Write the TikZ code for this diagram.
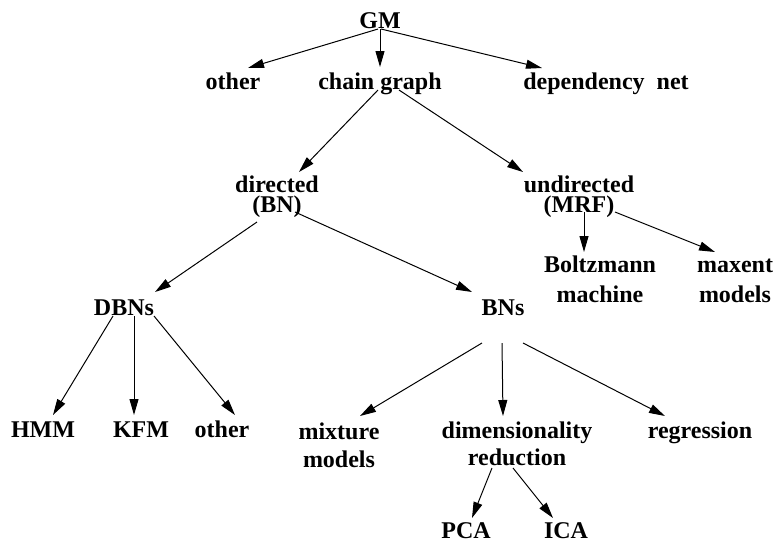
\documentclass[tikz,border=0pt]{standalone}
\usepackage{fontspec}
\setmainfont{Liberation Serif}
\usepackage{tikz}
\usetikzlibrary{arrows.meta, calc}

\begin{document}
\begin{tikzpicture}[
    x=1pt, y=-1pt,
    lbl/.style={inner sep=0pt, anchor=base, align=center, font=\fontsize{24}{28}\selectfont\bfseries},
    arr/.style={line width=1pt, -{Triangle[length=16pt, width=9pt]}}
]
\useasboundingbox (0,0) rectangle (777,542);
% labels, placed at the baseline of their last line
\node[lbl] (gm) at (380,28) {GM};
\node[lbl] (other1) at (233,89) {other};
\node[lbl] (chain) at (380,89) {chain graph};
\node[lbl] (dep) at (606,89) {dependency\ \ net};
\node[lbl] (dir) at (277,212) {directed\\[-8pt](BN)};
\node[lbl] (undir) at (579,212) {undirected\\[-8pt](MRF)};
\node[lbl] (boltz) at (600,302) {Boltzmann\\[2pt]machine};
\node[lbl] (maxent) at (735,302) {maxent\\[2pt]models};
\node[lbl] (dbns) at (124,315) {DBNs};
\node[lbl] (bns) at (503,315) {BNs};
\node[lbl] (hmm) at (43,437) {HMM};
\node[lbl] (kfm) at (141,437) {KFM};
\node[lbl] (other2) at (222,437) {other};
\node[lbl] (mix) at (339,467) {mixture\\models};
\node[lbl] (dim) at (517,465) {dimensionality\\[-1pt]reduction};
\node[lbl] (regr) at (700,438) {regression};
\node[lbl] (pca) at (466,538) {PCA};
\node[lbl] (ica) at (566,538) {ICA};
% arrows
\draw[arr] ($(gm.base)+(-2,1)$) -- ($(other1.base)+(15,-21)$);
\draw[arr] ($(gm.base)+(0,1)$) -- ($(chain.base)+(0,-22)$);
\draw[arr] ($(gm.base)+(1,1)$) -- ($(dep.base)+(-64,-21)$);
\draw[arr] ($(chain.base)+(-2,1)$) -- ($(dir.base)+(22,-40)$);
\draw[arr] ($(chain.base)+(19,1)$) -- ($(undir.base)+(-56,-40)$);
\draw[arr] ($(dir.base)+(-20,10)$) -- ($(dbns.base)+(31,-23)$);
\draw[arr] ($(dir.base)+(18,0)$) -- ($(bns.base)+(-31,-23)$);
\draw[arr] ($(undir.base)+(5,0)$) -- ($(boltz.base)+(-16,-50)$);
\draw[arr] ($(undir.base)+(36,0)$) -- ($(maxent.base)+(-20,-50)$);
\draw[arr] ($(dbns.base)+(-11,1)$) -- ($(hmm.base)+(10,-22)$);
\draw[arr] ($(dbns.base)+(10,1)$) -- ($(kfm.base)+(-7,-22)$);
\draw[arr] ($(dbns.base)+(30,1)$) -- ($(other2.base)+(13,-22)$);
\draw[arr] ($(bns.base)+(-21,28)$) -- ($(mix.base)+(21,-51)$);
\draw[arr] ($(bns.base)+(-1,28)$) -- ($(dim.base)+(-14,-49)$);
\draw[arr] ($(bns.base)+(20,28)$) -- ($(regr.base)+(-35,-22)$);
\draw[arr] ($(dim.base)+(-25,3)$) -- ($(pca.base)+(6,-20)$);
\draw[arr] ($(dim.base)+(-4,3)$) -- ($(ica.base)+(-13,-20)$);
\end{tikzpicture}
\end{document}
